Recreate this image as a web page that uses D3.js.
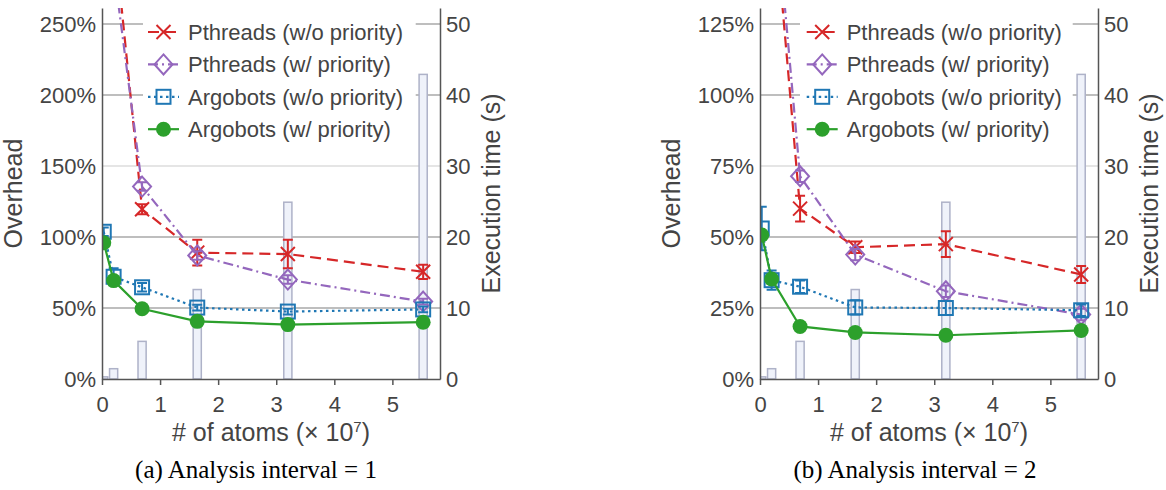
<!DOCTYPE html>
<html>
<head>
<meta charset="utf-8">
<script src="https://cdn.jsdelivr.net/npm/d3@7"></script>
<style>
  body { margin: 0; background: #fff; }
  svg { display: block; font-family: "Liberation Sans", Arial, sans-serif; }
</style>
</head>
<body>
<svg id="chart" width="1166" height="490"></svg>
<script>
// x positions (# of atoms, x 10^7) and baseline execution time (s) for the bars
const atoms = [0.03, 0.2, 0.69, 1.64, 3.2, 5.53];
const execTime = [0.3, 1.45, 5.3, 12.6, 24.9, 42.9];

const seriesNames = [
  "Pthreads (w/o priority)",
  "Pthreads (w/ priority)",
  "Argobots (w/o priority)",
  "Argobots (w/ priority)"
];

// (a) analysis interval = 1, overhead in %
const pthNoPrio1 = [600, 317, 119.5, 89, 88, 75.5];
const pthNoPrio1Err = [0, 0, 3.5, 9, 10, 5];
const pthPrio1 = [560, 290, 135.5, 87, 70, 54.5];
const pthPrio1Err = [0, 0, 3, 3, 3, 2];
const argNoPrio1 = [103.7, 72, 64.6, 50.3, 47.5, 49];
const argNoPrio1Err = [3, 6, 3, 2, 2, 2];
const argPrio1 = [96, 69.3, 49.5, 40.6, 38.3, 40];
const argPrio1Err = [0, 0, 0, 0, 0, 0];

// (b) analysis interval = 2, overhead in %
const pthNoPrio2 = [300, 175, 60, 46.4, 47.5, 36.8];
const pthNoPrio2Err = [0, 0, 4.5, 2, 4.5, 3];
const pthPrio2 = [280, 183, 71.4, 43.8, 30.9, 22.7];
const pthPrio2Err = [0, 0, 2, 2, 2, 2];
const argNoPrio2 = [53, 34.8, 32.5, 25.2, 25, 24.2];
const argNoPrio2Err = [7.7, 3.4, 2.2, 2.5, 2.5, 2];
const argPrio2 = [50.7, 35.2, 18.5, 16.4, 15.4, 17.1];
const argPrio2Err = [0, 0, 0, 0, 0, 0];

const xTicks = [0, 1, 2, 3, 4, 5];
const timeTicks = [0, 10, 20, 30, 40, 50];
const overheadTicks1 = [0, 50, 100, 150, 200, 250];
const overheadTicks2 = [0, 25, 50, 75, 100, 125];

const styles = [
  { color: "#d62728", dash: "11,6", marker: "x" },
  { color: "#9467bd", dash: "10,4,2,4", marker: "diamond" },
  { color: "#1f77b4", dash: "2.5,3.5", marker: "square" },
  { color: "#2ca02c", dash: null, marker: "circle" }
];

const panels = [
  {
    id: "a", left: 102, right: 440, yMax: 261.3, yTicks: overheadTicks1,
    legend: [143, 415.7, 148], caption: "(a) Analysis interval = 1", captionX: 256,
    values: [pthNoPrio1, pthPrio1, argNoPrio1, argPrio1],
    errs: [pthNoPrio1Err, pthPrio1Err, argNoPrio1Err, argPrio1Err]
  },
  {
    id: "b", left: 760, right: 1098, yMax: 130.65, yTicks: overheadTicks2,
    legend: [800, 1072.7, 806.7], caption: "(b) Analysis interval = 2", captionX: 915,
    values: [pthNoPrio2, pthPrio2, argNoPrio2, argPrio2],
    errs: [pthNoPrio2Err, pthPrio2Err, argNoPrio2Err, argPrio2Err]
  }
];

const plotTop = 8, plotBottom = 379;
const axisColor = "#555";
const textColor = "#444";
const svg = d3.select("#chart");

function drawMarker(g, type, cx, cy, color) {
  if (type === "x") {
    g.append("path").attr("d", `M${cx - 7},${cy - 7}L${cx + 7},${cy + 7}M${cx - 7},${cy + 7}L${cx + 7},${cy - 7}`)
      .attr("stroke", color).attr("stroke-width", 2).attr("fill", "none");
  } else if (type === "diamond") {
    g.append("path").attr("d", `M${cx},${cy - 10}L${cx + 9},${cy}L${cx},${cy + 10}L${cx - 9},${cy}Z`)
      .attr("stroke", color).attr("stroke-width", 2).attr("fill", "none");
  } else if (type === "square") {
    g.append("rect").attr("x", cx - 7).attr("y", cy - 7).attr("width", 14).attr("height", 14)
      .attr("stroke", color).attr("stroke-width", 2).attr("fill", "none");
  } else {
    g.append("circle").attr("cx", cx).attr("cy", cy).attr("r", 7.5).attr("fill", color);
  }
}

function drawPanel(p) {
  const x = d3.scaleLinear().domain([0, 5.82]).range([p.left, p.right]);
  const y = d3.scaleLinear().domain([0, p.yMax]).range([plotBottom, plotTop]);
  const yT = d3.scaleLinear().domain([0, 52.25]).range([plotBottom, plotTop]);

  const root = svg.append("g");
  root.append("clipPath").attr("id", "clip-" + p.id)
    .append("rect").attr("x", p.left).attr("y", plotTop)
    .attr("width", p.right - p.left).attr("height", plotBottom - plotTop);

  // gridlines (the middle one is lighter)
  root.append("g").selectAll("line").data(p.yTicks.slice(1)).join("line")
    .attr("x1", p.left).attr("x2", p.right)
    .attr("y1", d => y(d)).attr("y2", d => y(d))
    .attr("stroke", (d, i) => i === 2 ? "#dcdcdc" : "#a8a8a8")
    .attr("stroke-width", 1.5);

  const plot = root.append("g").attr("clip-path", `url(#clip-${p.id})`);

  // execution time bars
  const bw = x(0.14) - x(0);
  plot.append("g").selectAll("rect").data(atoms).join("rect")
    .attr("x", (d) => x(d) - bw / 2)
    .attr("y", (d, i) => yT(execTime[i]))
    .attr("width", bw)
    .attr("height", (d, i) => plotBottom - yT(execTime[i]))
    .attr("fill", "#eff2fa")
    .attr("stroke", "#aeb2c8")
    .attr("stroke-width", 1.5);

  // series
  p.values.forEach((vals, s) => {
    const st = styles[s];
    const pts = atoms.map((a, i) => [x(a), y(vals[i])]);
    plot.append("path").attr("d", d3.line()(pts))
      .attr("fill", "none").attr("stroke", st.color).attr("stroke-width", 2.2)
      .attr("stroke-dasharray", st.dash);
    const eg = plot.append("g");
    atoms.forEach((a, i) => {
      const e = p.errs[s][i];
      if (!e) return;
      const cx = x(a), y1 = y(vals[i] - e), y2 = y(vals[i] + e);
      eg.append("path").attr("d", `M${cx},${y1}L${cx},${y2}M${cx - 5},${y1}L${cx + 5},${y1}M${cx - 5},${y2}L${cx + 5},${y2}`)
        .attr("stroke", st.color).attr("stroke-width", 2).attr("fill", "none");
    });
    const mg = plot.append("g");
    atoms.forEach((a, i) => drawMarker(mg, st.marker, x(a), y(vals[i]), st.color));
  });

  // axes
  const axL = root.append("g").attr("transform", `translate(${p.left},0)`)
    .call(d3.axisLeft(y).tickValues(p.yTicks).tickSize(0).tickPadding(6).tickFormat(d => d + "%"));
  const axR = root.append("g").attr("transform", `translate(${p.right},0)`)
    .call(d3.axisRight(yT).tickValues(timeTicks).tickSize(0).tickPadding(6));
  const axB = root.append("g").attr("transform", `translate(0,${plotBottom})`)
    .call(d3.axisBottom(x).tickValues(xTicks).tickSize(6).tickSizeOuter(0).tickPadding(11)
      .tickFormat(d3.format("d")));
  [axL, axR, axB].forEach(a => {
    a.select(".domain").attr("stroke", axisColor).attr("stroke-width", 1.5);
    a.selectAll(".tick line").attr("stroke", axisColor).attr("stroke-width", 1.5);
    a.selectAll("text").attr("fill", textColor).style("font-size", "22px")
      .style("font-family", "'Liberation Sans', Arial, sans-serif");
  });

  // axis titles
  const cxPlot = (p.left + p.right) / 2, cyPlot = (plotTop + plotBottom) / 2;
  root.append("text").attr("transform", `translate(${p.left - 80},${cyPlot}) rotate(-90)`)
    .attr("text-anchor", "middle").attr("fill", textColor).style("font-size", "25px").text("Overhead");
  root.append("text").attr("transform", `translate(${p.right + 60},${cyPlot}) rotate(-90)`)
    .attr("text-anchor", "middle").attr("fill", textColor).style("font-size", "25px").text("Execution time (s)");
  const xt = root.append("text").attr("x", cxPlot).attr("y", 441)
    .attr("text-anchor", "middle").attr("fill", textColor).style("font-size", "25px");
  xt.append("tspan").text("# of atoms (× 10");
  xt.append("tspan").attr("dy", -9).style("font-size", "15px").text("7");
  xt.append("tspan").attr("dy", 9).text(")");

  root.append("text").attr("x", p.captionX).attr("y", 478).attr("text-anchor", "middle")
    .attr("fill", "#000").style("font-family", "'Liberation Serif', 'Times New Roman', serif")
    .style("font-size", "25px").text(p.caption);

  // legend
  const [lx0, lx1, mx] = p.legend;
  const lg = root.append("g");
  lg.append("rect").attr("x", lx0).attr("y", 10).attr("width", lx1 - lx0).attr("height", 140)
    .attr("fill", "#fff");
  seriesNames.forEach((name, s) => {
    const st = styles[s];
    const ly = 32 + s * 32.4;
    lg.append("line").attr("x1", mx).attr("x2", mx + 31).attr("y1", ly).attr("y2", ly)
      .attr("stroke", st.color).attr("stroke-width", 2.2).attr("stroke-dasharray", st.dash);
    drawMarker(lg, st.marker, mx + 15.5, ly, st.color);
    lg.append("text").attr("x", mx + 40).attr("y", ly).attr("dy", "0.36em")
      .attr("fill", textColor).style("font-size", "22px").text(name);
  });
}

panels.forEach(drawPanel);
</script>
</body>
</html>
